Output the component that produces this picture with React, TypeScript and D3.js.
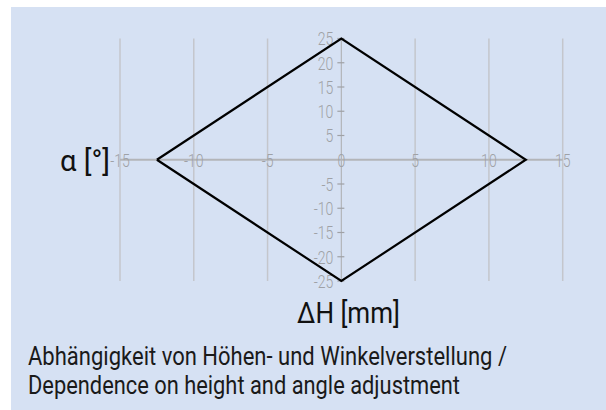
import React from "react";
import * as d3 from "d3";

const xTicks = [-15, -10, -5, 0, 5, 10, 15];
const yTicks = [25, 20, 15, 10, 5, 0, -5, -10, -15, -20, -25];
const diamondH = [-12.5, 0, 12.5, 0, -12.5];
const diamondA = [0, 25, 0, -25, 0];
const xLabel = "ΔH [mm]";
const yLabel = "α [°]";
const caption = [
  "Abhängigkeit von Höhen- und Winkelverstellung /",
  "Dependence on height and angle adjustment",
];
const captionWidths = [479, 432];

const FONT = "Roboto, 'Noto Sans', sans-serif";

export default function App() {
  const W = 606, H = 410;
  const x = d3.scaleLinear().domain([-15, 15]).range([120, 562.7]);
  const y = d3.scaleLinear().domain([-25, 25]).range([281, 38.5]);
  const pts = diamondH.map((h, i) => [x(h), y(diamondA[i])] as [number, number]);
  const line = d3.line();
  const grey = "#9fa1a6";
  const sx = 0.74;
  return (
    <svg width={W} height={H} style={{ position: "absolute", left: 0, top: 0 }} fontFamily={FONT}>
      <rect x={0} y={0} width={W} height={H} fill="#ffffff" />
      <rect x={11} y={7} width={W - 11} height={H - 7} fill="#d6e1f3" />
      {xTicks.filter((t) => t !== 0).map((t) => (
        <line key={"g" + t} x1={x(t)} x2={x(t)} y1={y(25)} y2={y(-25)} stroke="#c4c6cc" strokeWidth={1.5} />
      ))}
      <line x1={x(-15)} x2={x(15)} y1={y(0)} y2={y(0)} stroke="#b3b5b9" strokeWidth={2} />
      <line x1={x(0)} x2={x(0)} y1={y(25)} y2={y(-25)} stroke="#b3b5b9" strokeWidth={1.2} />
      {yTicks.filter((t) => t !== 0).map((t) => (
        <g key={"y" + t}>
          <line x1={x(0) - 4} x2={x(0) + 3} y1={y(t)} y2={y(t)} stroke={grey} strokeWidth={1.2} />
          <text transform={`translate(${x(0) - 8},${y(t)}) scale(${sx},1)`} dy="0.36em" textAnchor="end" fontSize={19} fontWeight={300} fill={grey}>{t}</text>
        </g>
      ))}
      {xTicks.map((t) => (
        <text key={"x" + t} transform={`translate(${x(t)},${y(0)}) scale(${sx},1)`} dy="0.36em" textAnchor="middle" fontSize={19} fontWeight={300} fill={grey}>{t}</text>
      ))}
      <path d={line(pts) || ""} fill="none" stroke="#000" strokeWidth={2.2} strokeLinejoin="miter" />
      <text x={297} y={323} fontSize={30} fill="#111" textLength={103} lengthAdjust="spacingAndGlyphs">{xLabel}</text>
      <text x={60} y={171} fontSize={30} fill="#111" textLength={50} lengthAdjust="spacingAndGlyphs">{yLabel}</text>
      {caption.map((c, i) => (
        <text key={i} x={28} y={365 + i * 29} fontSize={25} fill="#1a1a1a" textLength={captionWidths[i]} lengthAdjust="spacingAndGlyphs">{c}</text>
      ))}
    </svg>
  );
}
